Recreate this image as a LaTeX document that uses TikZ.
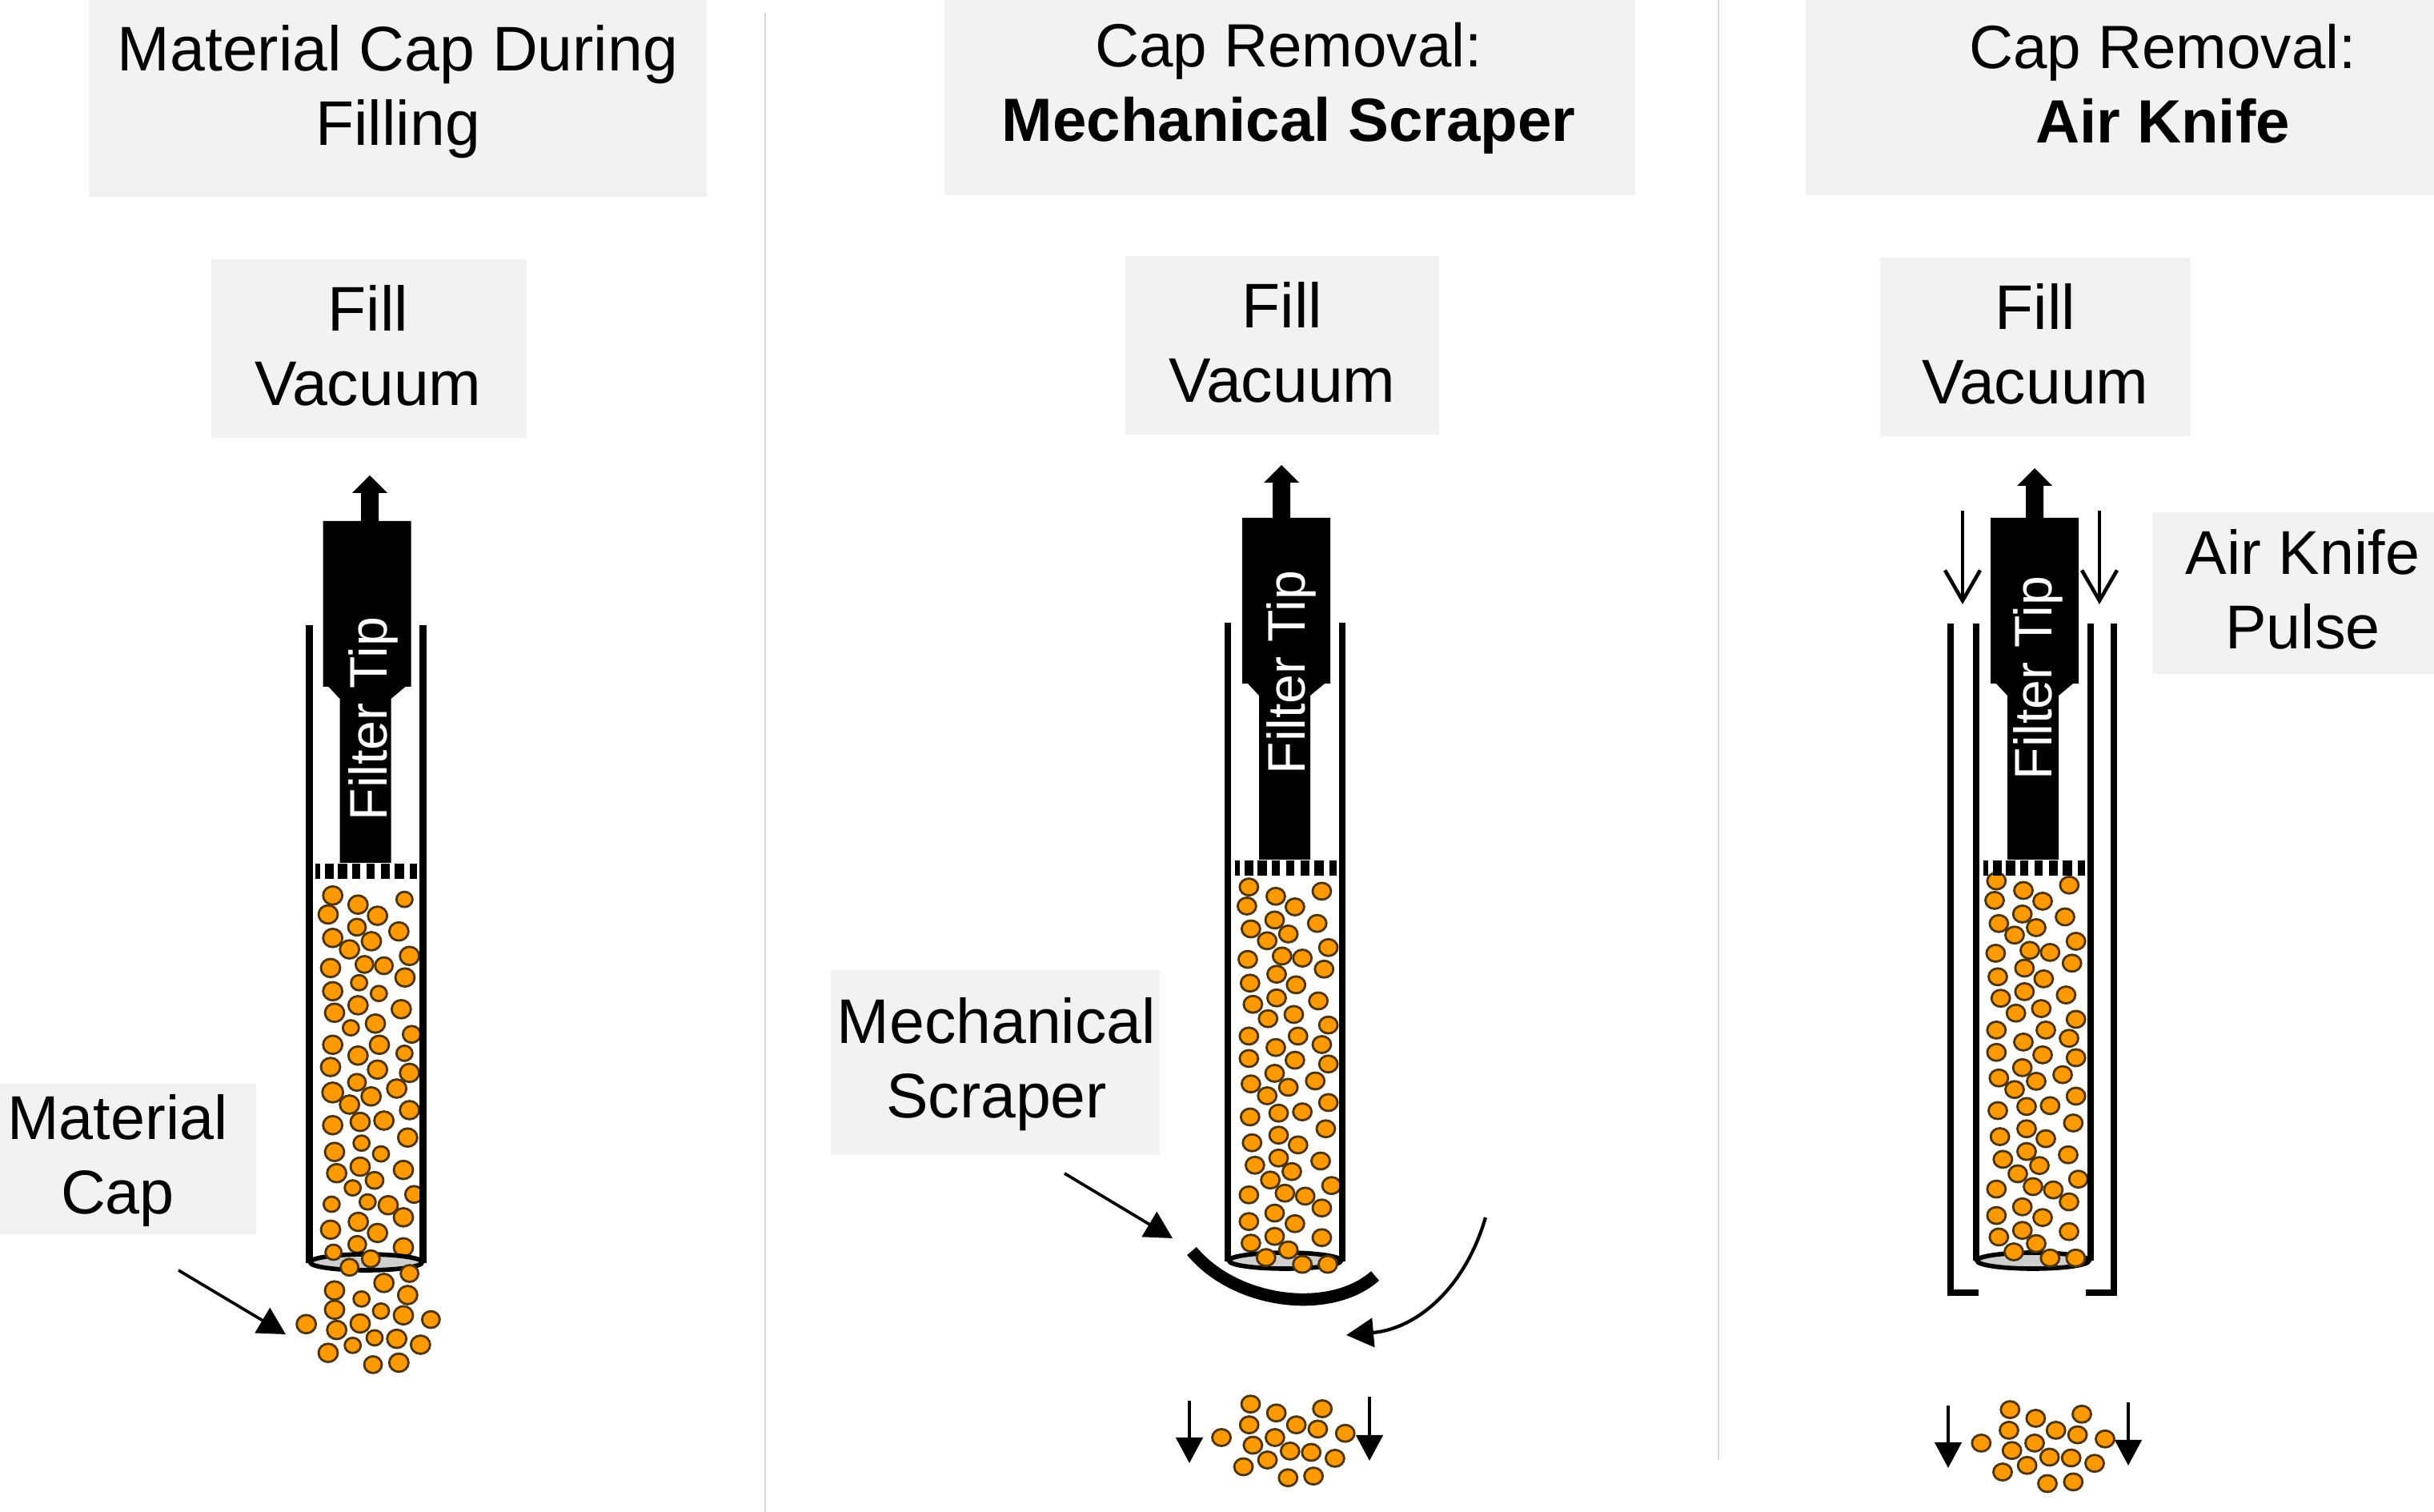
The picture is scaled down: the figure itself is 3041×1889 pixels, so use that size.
\documentclass[tikz,border=0pt]{standalone}
\usepackage{fontspec}
\setmainfont{Liberation Sans}
\usetikzlibrary{arrows.meta}
\definecolor{boxgray}{HTML}{F2F2F2}
\definecolor{divgray}{HTML}{D9D9D9}
\definecolor{partfill}{HTML}{FF9900}
\definecolor{partline}{HTML}{4D3500}
\definecolor{rimfill}{HTML}{CFCFCF}
\tikzset{
  boxbg/.style={fill=boxgray},
  divider/.style={draw=divgray,line width=0.6pt},
  label/.style={font=\fontsize{22}{26.5}\selectfont,align=center,anchor=base,inner sep=0pt},
  labelbig/.style={label,font=\fontsize{22.4}{26.5}\selectfont},
  labelsmall/.style={label,font=\fontsize{21.7}{26.5}\selectfont},
  tiplabel/.style={font=\fontsize{18.8}{22}\selectfont,text=white,rotate=90,anchor=base,inner sep=0pt},
  part/.style={fill=partfill,draw=partline,line width=0.8pt},
  wall/.style={draw=black,line width=2.4pt},
  rim/.style={fill=rimfill,draw=black,line width=1.6pt},
  thinarrow/.style={draw=black,line width=1.05pt,-{Triangle[length=0.34cm,width=0.36cm]}},
  downarrow/.style={draw=black,line width=1.3pt,-{Triangle[length=0.32cm,width=0.33cm]}},
  airarrow/.style={draw=black,line width=1.3pt,-{Straight Barb[length=0.38cm,width=0.44cm]}},
}
\newcommand{\tipbody}[4]{% body centre, body top, arrow x, arrow tip y
  \fill[black] (#3,#4) -- ({#3+22},{#4+22}) -- ({#3+11},{#4+22}) -- ({#3+11},#2)
    -- ({#1+55},#2) -- ({#1+55},{#2+207}) -- ({#1+48},{#2+207}) -- ({#1+30},{#2+222})
    -- ({#1+30},{#2+427}) -- ({#1-34},{#2+427}) -- ({#1-34},{#2+222})
    -- ({#1-48},{#2+207}) -- ({#1-55},{#2+207}) -- ({#1-55},#2) -- ({#3-11},#2)
    -- ({#3-11},{#4+22}) -- ({#3-22},{#4+22}) -- cycle;
  \foreach \a/\b in {-64.5/-58.5,-52.5/-41.5,-36.5/-24.5,-18.5/-8.5,-0.5/9.5,17.5/28.5,34.5/46.5,53.5/62.5}
    \fill[black] ({#1+\a},{#2+428}) rectangle ({#1+\b},{#2+447});
}
\newcommand{\tube}[4]{% left x, right x, top y, bottom y
  \draw[wall] (#1,#3) -- (#1,#4);
  \draw[wall] (#2,#3) -- (#2,#4);
}
\newcommand{\partlist}[5]{% x0, xscale, y0, yscale, list
  \foreach \X/\Y in {#5}
    \path[part] ({#1+\X/#2},{#3+\Y/#4}) ellipse [x radius=11.5,y radius=10.5];
}
\newcommand{\partlistR}[5]{% with individual radii
  \foreach \X/\Y/\R in {#5}
    \path[part] ({#1+\X/#2},{#3+\Y/#4}) ellipse [x radius=\R,y radius={\R*0.95}];
}
\begin{document}
\begin{tikzpicture}[x=0.01cm,y=-0.01cm]
\path[use as bounding box] (0,0) rectangle (3041,1889);

% dividers
\draw[divider] (956,16) -- (956,1889);
\draw[divider] (2147,0) -- (2147,1824);

% label backgrounds
\path[boxbg] (111,0) rectangle (883,246);
\path[boxbg] (1180,0) rectangle (2043,244);
\path[boxbg] (2256,0) rectangle (3041,244);
\path[boxbg] (264,324) rectangle (658,547);
\path[boxbg] (1406,320) rectangle (1798,543);
\path[boxbg] (2349,322) rectangle (2737,545);
\path[boxbg] (2689,640) rectangle (3041,842);
\path[boxbg] (1038,1212) rectangle (1449,1443);
\path[boxbg] (0,1354) rectangle (320,1542);

% labels
\node[labelbig] (t1) at (497,182) {Material Cap During\\Filling};
\node[labelsmall] (t2) at (1610,177) {Cap Removal:\\\textbf{Mechanical Scraper}};
\node[labelsmall] (t3) at (2702,179) {Cap Removal:\\\textbf{Air Knife}};
\node[labelbig] (v1) at (460,507) {Fill\\Vacuum};
\node[labelbig] (v2) at (1602,503) {Fill\\Vacuum};
\node[labelbig] (v3) at (2543,505) {Fill\\Vacuum};
\node[label] (akp) at (2877,811) {Air Knife\\Pulse};
\node[labelbig] (ms) at (1245,1397) {Mechanical\\Scraper};
\node[label] (mc) at (147,1517) {Material\\Cap};

% column 1
\partlistR{330}{3}{1080}{2.45}{257/95/12,352/123/12,526/107/10,240/153/12,425/157/12,348/192/11,505/205/12,257/225/12,402/235/12,320/260/12,545/280/12,376/306/11,449/310/11,249/317/12,528/346/12,356/362/10,257/388/12,430/395/10,352/431/12,514/443/12,264/454/12,417/487/12,325/500/10,553/520/11,257/552/12,432/552/12,526/578/10,352/585/12,249/620/12,425/628/12,545/638/12,348/667/11,497/686/12,257/698/13,401/710/12,320/735/12,545/752/12,360/788/12,449/784/12,257/798/12,538/836/12,365/853/10,264/880/12,438/886/10,360/925/12,522/935/12,272/945/12,414/967/11,332/990/10,562/1010/11,253/1040/10,388/1033/10,465/1043/12,522/1080/12,353/1094/12,249/1118/12,425/1128/12,349/1163/11,522/1172/12}
\tube{386.5}{528.5}{781}{1578}
\tipbody{458.5}{651}{462}{594}
\node[tiplabel] (f1) at (483,898) {Filter Tip};
\path[rim] (457.5,1577) ellipse [x radius=70,y radius=10];
\partlistR{330}{3}{1080}{2.45}{260/1187/10,400/1207/11,320/1233/11,545/1252/11,449/1281/12,264/1304/12,538/1318/12,365/1330/10,264/1363/12,438/1367/10,522/1380/12,625/1393/11,360/1405/12,158/1407/12,272/1425/12,414/1449/10,497/1452/12,586/1470/12,332/1472/10,240/1495/12,408/1531/11,505/1525/12}
\coordinate (mcs) at (223,1587);
\coordinate (mce) at (357,1667);
\draw[thinarrow] (mcs) -- (mce);

% column 2
\partlist{1300}{2.8}{1060}{1.89}{729/91,823/113,984/101,722/136,890/138,819/169,968/177,736/190,867/202,793/218,1007/234,845/254,916/259,725/262,992/285,826/297,733/318,894/322,826/353,972/360,743/368,796/402,886/392,1007/417,729/443,901/443,984/463,823/470,729/496,890/500,1007/509,819/531,736/556,961/549,867/564,793/584,1007/600,833/625,916/622,733/634,998/662,833/677,740/695,901/700,833/731,980/738,750/748,879/763,804/783,1018/796,729/818,855/814,926/821,984/849,819/861,729/881,890/886,819/916,984/919,736/932}
\tube{1534}{1677}{778}{1576}
\tipbody{1607}{647}{1601}{581}
\node[tiplabel] (f2) at (1630,840) {Filter Tip};
\path[rim] (1605.5,1575) ellipse [x radius=70,y radius=10];
\partlist{1300}{2.8}{1060}{1.89}{867/948,789/966,916/982,1005/982,735/1312,825/1333,986/1323,730/1361,895/1361,970/1371,1066/1381,633/1391,820/1391,743/1409,873/1423,947/1426,1030/1440,794/1444,710/1460,866/1486,955/1482}
\coordinate (sa) at (1489,1563);
\coordinate (sb) at (1718,1594);
\draw[line width=4.4pt] (sa) .. controls (1545,1630) and (1663,1643) .. (sb);
\coordinate (mss) at (1330,1466);
\coordinate (mse) at (1465,1547);
\draw[thinarrow] (mss) -- (mse);
\coordinate (swa) at (1856,1521);
\coordinate (swb) at (1682,1668);
\draw[thinarrow,line width=1.2pt] (swa) .. controls (1830,1610) and (1770,1660) .. (swb);
\coordinate (d2la) at (1486,1750);
\coordinate (d2lb) at (1486,1828);
\coordinate (d2ra) at (1711,1745);
\coordinate (d2rb) at (1711,1825);
\draw[downarrow] (d2la) -- (d2lb);
\draw[downarrow] (d2ra) -- (d2rb);

% column 3
\partlist{2400}{3}{1080}{1.938}{283/40,384/63,556/50,276/87,456/89,380/120,540/127,292/143,432/153,351/171,581/186,408/208,484/213,280/215,566/239,388/251,288/272,460/277,388/308,544/316,299/324,356/360,451/349,581/375,283/401,468/401,555/421,384/430,283/455,456/461,581/468,380/492,292/517,531/509,432/525,351/545,581/561,396/586,484/584,288/596,571/626,396/640,296/659,468/664,396/695,552/703,307/714,444/729,363/749,590/762,283/786,420/780,496/788,555/817,380/829,283/850,456/855,380/886,292/902,555/889}
\tube{2469}{2612}{779}{1575}
\draw[wall] (2472,1615) -- (2437,1615) -- (2437,779);
\draw[wall] (2606,1615) -- (2641,1615) -- (2641,779);
\tipbody{2542}{647}{2542}{585}
\node[tiplabel] (f3) at (2563,847) {Filter Tip};
\path[rim] (2540,1575) ellipse [x radius=70,y radius=10];
\partlist{2400}{3}{1080}{1.938}{432/918,348/938,484/953,580/953,334/1320,430/1341,603/1331,330/1370,506/1370,587/1381,690/1391,226/1401,426/1401,341/1419,482/1435,563/1437,651/1450,398/1455,306/1471,474/1499,571/1495}
\coordinate (a3la) at (2452,638);
\coordinate (a3lb) at (2452,755);
\coordinate (a3ra) at (2623,638);
\coordinate (a3rb) at (2623,755);
\draw[airarrow] (a3la) -- (a3lb);
\draw[airarrow] (a3ra) -- (a3rb);
\coordinate (d3la) at (2434,1756);
\coordinate (d3lb) at (2434,1834);
\coordinate (d3ra) at (2659,1752);
\coordinate (d3rb) at (2659,1831);
\draw[downarrow] (d3la) -- (d3lb);
\draw[downarrow] (d3ra) -- (d3rb);
\end{tikzpicture}
\end{document}
